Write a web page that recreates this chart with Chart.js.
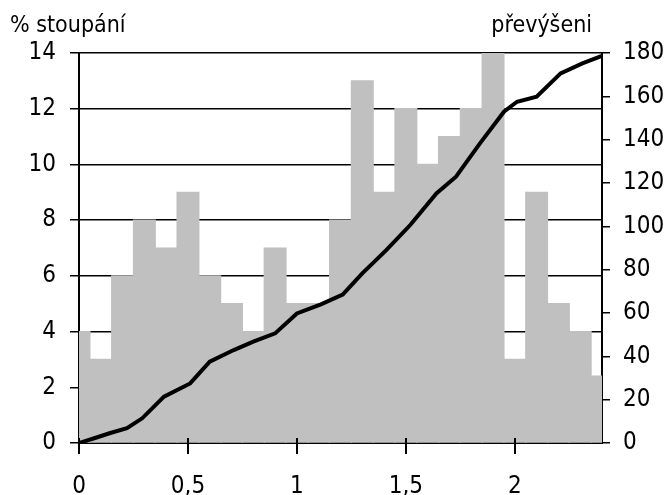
<!DOCTYPE html>
<html>
<head>
<meta charset="utf-8">
<script src="https://cdn.jsdelivr.net/npm/chart.js@4"></script>
<style>
  body { margin: 0; background: #fff; }
  #wrap { width: 670px; height: 495px; }
</style>
</head>
<body>
<div id="wrap"><canvas id="chart"></canvas></div>
<script>
const FONT = "'Liberation Sans Narrow', 'DejaVu Sans Condensed', 'Liberation Sans', Arial, sans-serif";

// slope per 100 m segment (left axis, %)
const slopeKm  = [0, 0.1, 0.2, 0.3, 0.4, 0.5, 0.6, 0.7, 0.8, 0.9, 1.0, 1.1, 1.2,
                  1.3, 1.4, 1.5, 1.6, 1.7, 1.8, 1.9, 2.0, 2.1, 2.2, 2.3, 2.4];
const slopePct = [4, 3, 6, 8, 7, 9, 6, 5, 4, 7, 5, 5, 8,
                  13, 9, 12, 10, 11, 12, 14, 3, 9, 5, 4, 2.4];

// cumulative climb (right axis, m)
const profileKm = [0, 0.07, 0.14, 0.22, 0.29, 0.39, 0.51, 0.6, 0.71, 0.8, 0.9, 1.0, 1.11,
                   1.21, 1.3, 1.41, 1.52, 1.64, 1.73, 1.84, 1.95, 2.01, 2.1, 2.21, 2.31, 2.4];
const profileM  = [0, 2.2, 4.5, 6.8, 11.4, 21.4, 27.5, 37.5, 42.9, 46.8, 50.6, 59.8, 64,
                   68.5, 78.3, 89, 100.6, 115.2, 122.9, 138.3, 152.9, 157.5, 159.8, 170.6, 175.2, 178.7];

const xTickValues = [0, 0.5, 1, 1.5, 2];
const xTickLabels = ['0', '0,5', '1', '1,5', '2'];
const leftTitle = '% stoupání';
const rightTitle = 'převýšeni';

// axis titles above the plot + x tick marks crossing the axis
const extras = {
  id: 'extras',
  afterDraw(chart) {
    const c = chart.ctx;
    const x = chart.scales.x;
    const bottom = chart.chartArea.bottom;
    c.save();
    c.strokeStyle = '#000';
    c.lineWidth = 2;
    xTickValues.forEach(v => {
      const px = Math.round(x.getPixelForValue(v));
      c.beginPath();
      c.moveTo(px, bottom - 5);
      c.lineTo(px, bottom + 11);
      c.stroke();
    });
    c.fillStyle = '#000';
    c.font = '23px ' + FONT;
    c.textBaseline = 'alphabetic';
    c.textAlign = 'left';
    c.fillText(leftTitle, 10, 32);
    c.textAlign = 'right';
    c.fillText(rightTitle, 592, 32);
    c.restore();
  }
};

new Chart(document.getElementById('chart'), {
  type: 'bar',
  data: {
    datasets: [{
      type: 'line',
      data: profileKm.map((k, i) => ({ x: k, y: profileM[i] })),
      yAxisID: 'y2',
      borderColor: '#000',
      borderWidth: 4,
      pointRadius: 0,
      order: 0
    }, {
      type: 'bar',
      data: slopeKm.map((k, i) => ({ x: k, y: slopePct[i] })),
      yAxisID: 'y',
      backgroundColor: '#c0c0c0',
      borderWidth: 0,
      inflateAmount: 0.6,
      barPercentage: 1,
      categoryPercentage: 1,
      order: 1
    }]
  },
  options: {
    responsive: true,
    maintainAspectRatio: false,
    animation: false,
    layout: { padding: { top: 53 } },
    plugins: { legend: { display: false }, tooltip: { enabled: false } },
    scales: {
      x: {
        type: 'linear',
        min: 0,
        max: 2.4,
        offset: false,
        afterBuildTicks: s => { s.ticks = xTickValues.map(v => ({ value: v })); },
        afterFit: s => { s.height = 52; },
        grid: { display: false, tickLength: 11 },
        border: { display: true, color: '#000', width: 2 },
        ticks: {
          color: '#000',
          font: { family: FONT, size: 24 },
          padding: 18,
          maxRotation: 0,
          autoSkip: false,
          callback: (v) => xTickLabels[xTickValues.indexOf(v)]
        }
      },
      y: {
        position: 'left',
        min: 0,
        max: 14,
        afterFit: s => { s.width = 79; },
        grid: { color: '#000', lineWidth: 1.5, tickLength: 9 },
        border: { color: '#000', width: 2 },
        ticks: { stepSize: 2, color: '#000', padding: 14, font: { family: FONT, size: 24 } }
      },
      y2: {
        position: 'right',
        min: 0,
        max: 180,
        afterFit: s => { s.width = 68; },
        grid: { drawOnChartArea: false, color: '#000', lineWidth: 1.5, tickLength: 8 },
        border: { color: '#000', width: 2 },
        ticks: { stepSize: 20, color: '#000', padding: 13, font: { family: FONT, size: 24 } }
      }
    }
  },
  plugins: [extras]
});
</script>
</body>
</html>
